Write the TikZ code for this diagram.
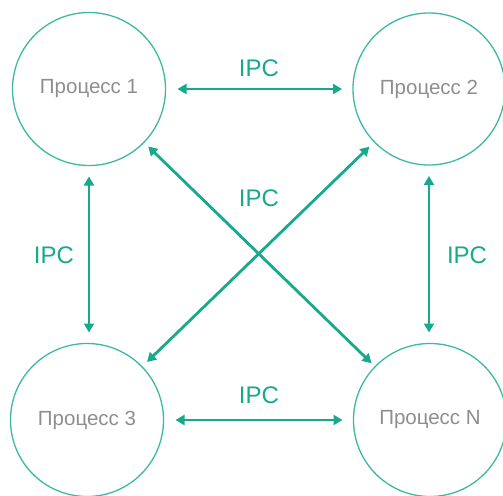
\documentclass[tikz,border=0pt]{standalone}
\usepackage{fontspec}
\setmainfont{Liberation Sans}
\usetikzlibrary{arrows.meta}
\definecolor{teal1}{HTML}{17A98C}
\definecolor{tealc}{HTML}{3DB9A2}
\definecolor{txtgray}{HTML}{8E8E8E}
\tikzset{
  proc/.style={circle, draw=tealc, line width=1.3pt, minimum size=153pt, inner sep=0pt, outer sep=0pt,
    text=txtgray, font=\fontsize{20.5}{24}\selectfont},
  link/.style={teal1, line width=2.8pt, {Triangle[length=9pt,width=10pt]}-{Triangle[length=9pt,width=10pt]}},
  lbl/.style={text=teal1, font=\fontsize{24}{28}\selectfont, inner sep=0pt}
}
\begin{document}
\begin{tikzpicture}[x=1pt,y=-1pt]
\useasboundingbox (0,0) rectangle (503,495);
\node[proc] (p1) at (89,89) {Процесс 1};
\node[proc, minimum size=152pt] (p2) at (429,89) {Процесс 2};
\node[proc] (p3) at (87,420) {Процесс 3};
\node[proc] (pn) at (430,420) {Процесс N};
\draw[link, shorten <=12pt, shorten >=11pt] (p1.east) -- (p2.west);
\draw[link, shorten <=12pt, shorten >=11pt] (p3.east) -- (pn.west);
\draw[link, shorten <=11pt, shorten >=11pt] (p1.south) -- (p1.south |- p3.north);
\draw[link, shorten <=11pt, shorten >=11pt] (pn.north -| p2.south) -- (p2.south) ;
\draw[link, shorten <=6pt, shorten >=5pt] (p1) -- (pn);
\draw[link, shorten <=7pt, shorten >=7pt] (p2) -- (p3);
\node[lbl] (l1) at (259,68) {IPC};
\node[lbl] (l2) at (259,198) {IPC};
\node[lbl] (l3) at (259,395) {IPC};
\node[lbl] (l4) at (54,255) {IPC};
\node[lbl] (l5) at (467,255) {IPC};
\end{tikzpicture}
\end{document}
